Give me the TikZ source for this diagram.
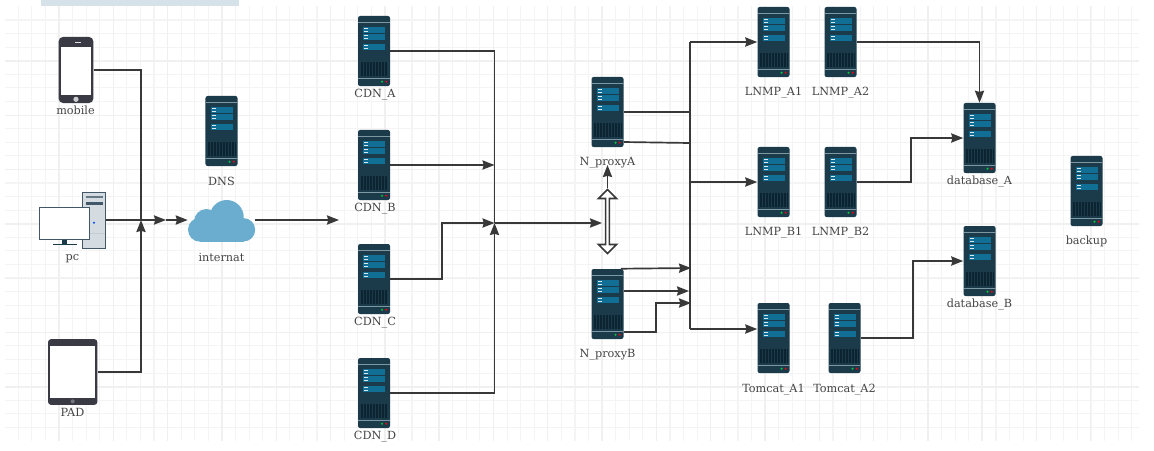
\documentclass[tikz,border=0pt]{standalone}
\usepackage{fontspec}
\setmainfont{DejaVu Serif}
\usetikzlibrary{arrows.meta,calc,shapes.arrows}
\definecolor{srvbody}{HTML}{1C3B4A}
\definecolor{srvline}{HTML}{7D97A3}
\definecolor{srvstrip}{HTML}{116F95}
\definecolor{srvgrille}{HTML}{0C2431}
\definecolor{devdark}{HTML}{3A3A45}
\definecolor{pcframe}{HTML}{425868}
\definecolor{pcgrey}{HTML}{D5DCE1}
\definecolor{cloudblue}{HTML}{6AADCF}
\definecolor{wirecol}{HTML}{383838}
\definecolor{labelcol}{HTML}{444444}
\definecolor{gridminor}{HTML}{F4F4F4}
\definecolor{gridmajor}{HTML}{F0F0F0}
\definecolor{bannerblue}{HTML}{D5E2EA}
% server front, coordinates from the middle of the box
\newcommand{\serverart}{
  \begin{scope}[sharp corners, shift={(path picture bounding box.center)}]
    \fill[srvline] (-16,-29.4) rectangle (16,-28);
    \fill[srvline] (-16,26.7) rectangle (16,28.2);
    \foreach \row in {-24.4,-21.4,-17,-14,-7,-4}{
      \fill[srvstrip] (-11,\row) rectangle (11.4,\row+3);
      \fill[white!85!srvstrip] (-10,\row+1) rectangle (-6,\row+2);
    }
    \fill[srvgrille] (-13.3,10.7) rectangle (14,25);
    \foreach \slot in {-11,-8,...,13}{
      \draw[srvbody,line width=0.2pt] (\slot,11) -- (\slot,25);
    }
    \fill[green!55!teal] (8,30.7) circle (1.2);
    \fill[red!70!purple] (12.2,30.7) circle (1.2);
  \end{scope}
}
\begin{document}
\begin{tikzpicture}[
    x=0.025cm, y=-0.025cm,
    every node/.style={font=\fontsize{8}{9}\selectfont, text=labelcol},
    server/.style={rectangle, fill=srvbody, rounded corners=1.5pt, minimum width=0.8cm, minimum height=1.75cm, inner sep=0pt, path picture={\serverart}},
    icon/.style={rectangle, inner sep=0pt},
    wire/.style={wirecol, line width=1.2pt},
    arr/.style={-{Stealth[length=0.3cm,width=0.23cm,inset=0.03cm]}, wirecol, line width=1.2pt}
]
\useasboundingbox (0,0) rectangle (1154,450);

% grid
\foreach \gx in {18.2,31.78,...,1139}{\draw[gridminor,line width=0.8pt] (\gx,6) -- (\gx,441);}
\foreach \gy in {20,33.58,...,440}{\draw[gridminor,line width=0.8pt] (5,\gy) -- (1139,\gy);}
\foreach \gx in {59,113.3,...,1139}{\draw[gridmajor,line width=1pt] (\gx,6) -- (\gx,441);}
\foreach \gy in {61,115.3,...,440}{\draw[gridmajor,line width=1pt] (5,\gy) -- (1139,\gy);}
\fill[bannerblue] (41,0) rectangle (239,6);

% clients
\node[icon, rounded corners=3pt, fill=devdark, minimum width=0.865cm, minimum height=1.65cm, path picture={
  \begin{scope}[sharp corners, shift={(path picture bounding box.center)}]
    \fill[white] (-15.3,-23.3) rectangle (15.3,25.3);
    \fill[white!75!devdark] (0,29.3) circle (2.6);
    \fill[white!85!devdark] (-1.5,-28.5) rectangle (5,-27.8);
  \end{scope}}] (mobile) at (76,70) {};
\node[icon, rounded corners=2pt, fill=devdark, minimum width=1.23cm, minimum height=1.64cm, path picture={
  \begin{scope}[sharp corners, shift={(path picture bounding box.center)}]
    \fill[white] (-22.7,-26) rectangle (22.6,25.7);
    \fill[white!30!devdark] (0,29.3) circle (2);
  \end{scope}}] (PAD) at (72.7,372) {};
\node[icon, minimum width=1.675cm, minimum height=1.425cm, path picture={
  \begin{scope}[shift={(path picture bounding box.center)}]
    \fill[pcframe] (9.5,-28.5) rectangle (33.5,28.5);
    \fill[pcgrey] (10.5,-27.5) rectangle (32.5,27);
    \fill[pcframe!80] (13.5,-24.5) rectangle (30.5,-22.8);
    \fill[pcframe] (13.5,-18.5) rectangle (30.5,-16);
    \fill[blue!70!cyan] (21.5,1.9) circle (1.2);
    \fill[pcframe!30] (10.5,12) rectangle (32.5,12.7);
    \fill[srvbody] (-10.8,18) rectangle (-5.2,23.5);
    \fill[srvbody] (-19.8,23.2) rectangle (4.2,24);
    \draw[pcframe,fill=white,line width=0.8pt] (-33,-13) rectangle (16.7,18.5);
  \end{scope}}] (pc) at (72.5,220.8) {};
\node[icon, minimum width=1.675cm, minimum height=1.05cm, path picture={
  \begin{scope}[shift={(path picture bounding box.center)}]
    \fill[cloudblue] (5.2,-4) circle (17);
    \fill[cloudblue] (-15,0.5) circle (12.5);
    \fill[cloudblue] (-21.5,8.7) circle (12);
    \fill[cloudblue] (22,8.8) circle (11.7);
    \fill[cloudblue] (-21.5,5) rectangle (22,20.7);
  \end{scope}}] (internat) at (221.5,221) {};

\node[server] (DNS) at (221.5,131) {};
\node[server] (CDN_A) at (374,51) {};
\node[server] (CDN_B) at (374,165) {};
\node[server] (CDN_C) at (374,279) {};
\node[server] (CDN_D) at (374,393) {};
\node[server] (N_proxyA) at (607.5,112) {};
\node[server] (N_proxyB) at (607.5,304) {};
\node[server] (LNMP_A1) at (773.5,42) {};
\node[server] (LNMP_A2) at (840.5,42) {};
\node[server] (LNMP_B1) at (773.5,182) {};
\node[server] (LNMP_B2) at (840.5,182) {};
\node[server] (Tomcat_A1) at (773.5,338) {};
\node[server] (Tomcat_A2) at (844.5,338) {};
\node[server] (database_A) at (979.5,138) {};
\node[server] (database_B) at (979.5,261) {};
\node[server] (backup) at (1086.5,191) {};

\node (lmobile) at (75.5,110) {mobile};
\node (lpc) at (72.5,258.5) {pc};
\node (lPAD) at (72.5,412) {PAD};
\node (lDNS) at (221.5,181) {DNS};
\node (linternat) at (221.5,257) {internat};
\node (lCDN_A) at (375,95) {CDN\_A};
\node (lCDN_B) at (375,209) {CDN\_B};
\node (lCDN_C) at (375,323) {CDN\_C};
\node (lCDN_D) at (375,436.5) {CDN\_D};
\node (lN_proxyA) at (607.5,163) {N\_proxyA};
\node (lN_proxyB) at (607.5,355) {N\_proxyB};
\node (lLNMP_A1) at (773.5,93) {LNMP\_A1};
\node (lLNMP_A2) at (840.5,93) {LNMP\_A2};
\node (lLNMP_B1) at (773.5,233) {LNMP\_B1};
\node (lLNMP_B2) at (840.5,233) {LNMP\_B2};
\node (lTomcat_A1) at (773.5,390) {Tomcat\_A1};
\node (lTomcat_A2) at (844.5,390) {Tomcat\_A2};
\node (ldatabase_A) at (979.5,182) {database\_A};
\node (ldatabase_B) at (979.5,305) {database\_B};
\node (lbackup) at (1086.5,241) {backup};

\node[shape=double arrow, draw=wirecol, fill=white, line width=1.2pt, rotate=90, minimum height=1.6cm, minimum width=0.45cm, inner sep=0pt, double arrow head extend=0.08cm, double arrow head indent=0cm] (link) at (607.5,221.5) {};

\coordinate (inbus) at (141,220);
\coordinate (inmid) at (166,220);
\coordinate (cdnin) at (339,220);
\coordinate (join) at (494.5,223);
\coordinate (joinB) at (494.5,165);
\coordinate (bendC) at (442,223);
\coordinate (linkin) at (602,223);
\coordinate (linktop) at (607.5,165);
\coordinate (busTop) at (690,42);
\coordinate (busMid) at (690,182);
\coordinate (busLow) at (690,329);
\coordinate (busA1) at (690,112);
\coordinate (busA2) at (690,143);
\coordinate (busB1) at (691,268);
\coordinate (busB2) at (689,291);
\coordinate (busB3) at (691,303);
\coordinate (bendP) at (656,303);

\draw[wire] (mobile.east) -| (inbus);
\draw[arr] (PAD.east) -| (inbus);
\draw[arr] (pc.east |- inbus) -- (inmid);
\draw[arr] (inmid) -- (internat.west |- inbus);
\draw[arr] (internat.east |- inbus) -- (cdnin);

\draw[wire] (CDN_A.east) -| (join);
\draw[arr] (CDN_B.east) -- (joinB);
\draw[arr] (CDN_C.east) -| (bendC) -- (join);
\draw[arr] (CDN_D.east) -| (join);
\draw[arr] (join) -- (linkin);
\draw[arr] (link.tip 1) -- (linktop);

\draw[wire] (N_proxyA.east) -- (busA1);
\draw[wire] ($(N_proxyA.east)+(0,30)$) -- (busA2);
\draw[arr] ($(N_proxyB.north east)+(-3,0)$) -- (busB1);
\draw[arr] ($(N_proxyB.east)+(0,-13)$) -- (busB2);
\draw[arr] ($(N_proxyB.east)+(0,28)$) -| (bendP) -- (busB3);

\draw[wire] (busTop) -- (busLow);
\draw[arr] (busTop) -- (LNMP_A1.west);
\draw[arr] (busMid) -- (LNMP_B1.west);
\draw[arr] (busLow) -- ($(Tomcat_A1.west)+(0,-9)$);

\draw[arr] (LNMP_A2.east) -| (database_A.north);
\draw[arr] (LNMP_B2.east) -- ++(54,0) |- (database_A.west);
\draw[arr] (Tomcat_A2.east) -- ++(52,0) |- (database_B.west);
\end{tikzpicture}
\end{document}
